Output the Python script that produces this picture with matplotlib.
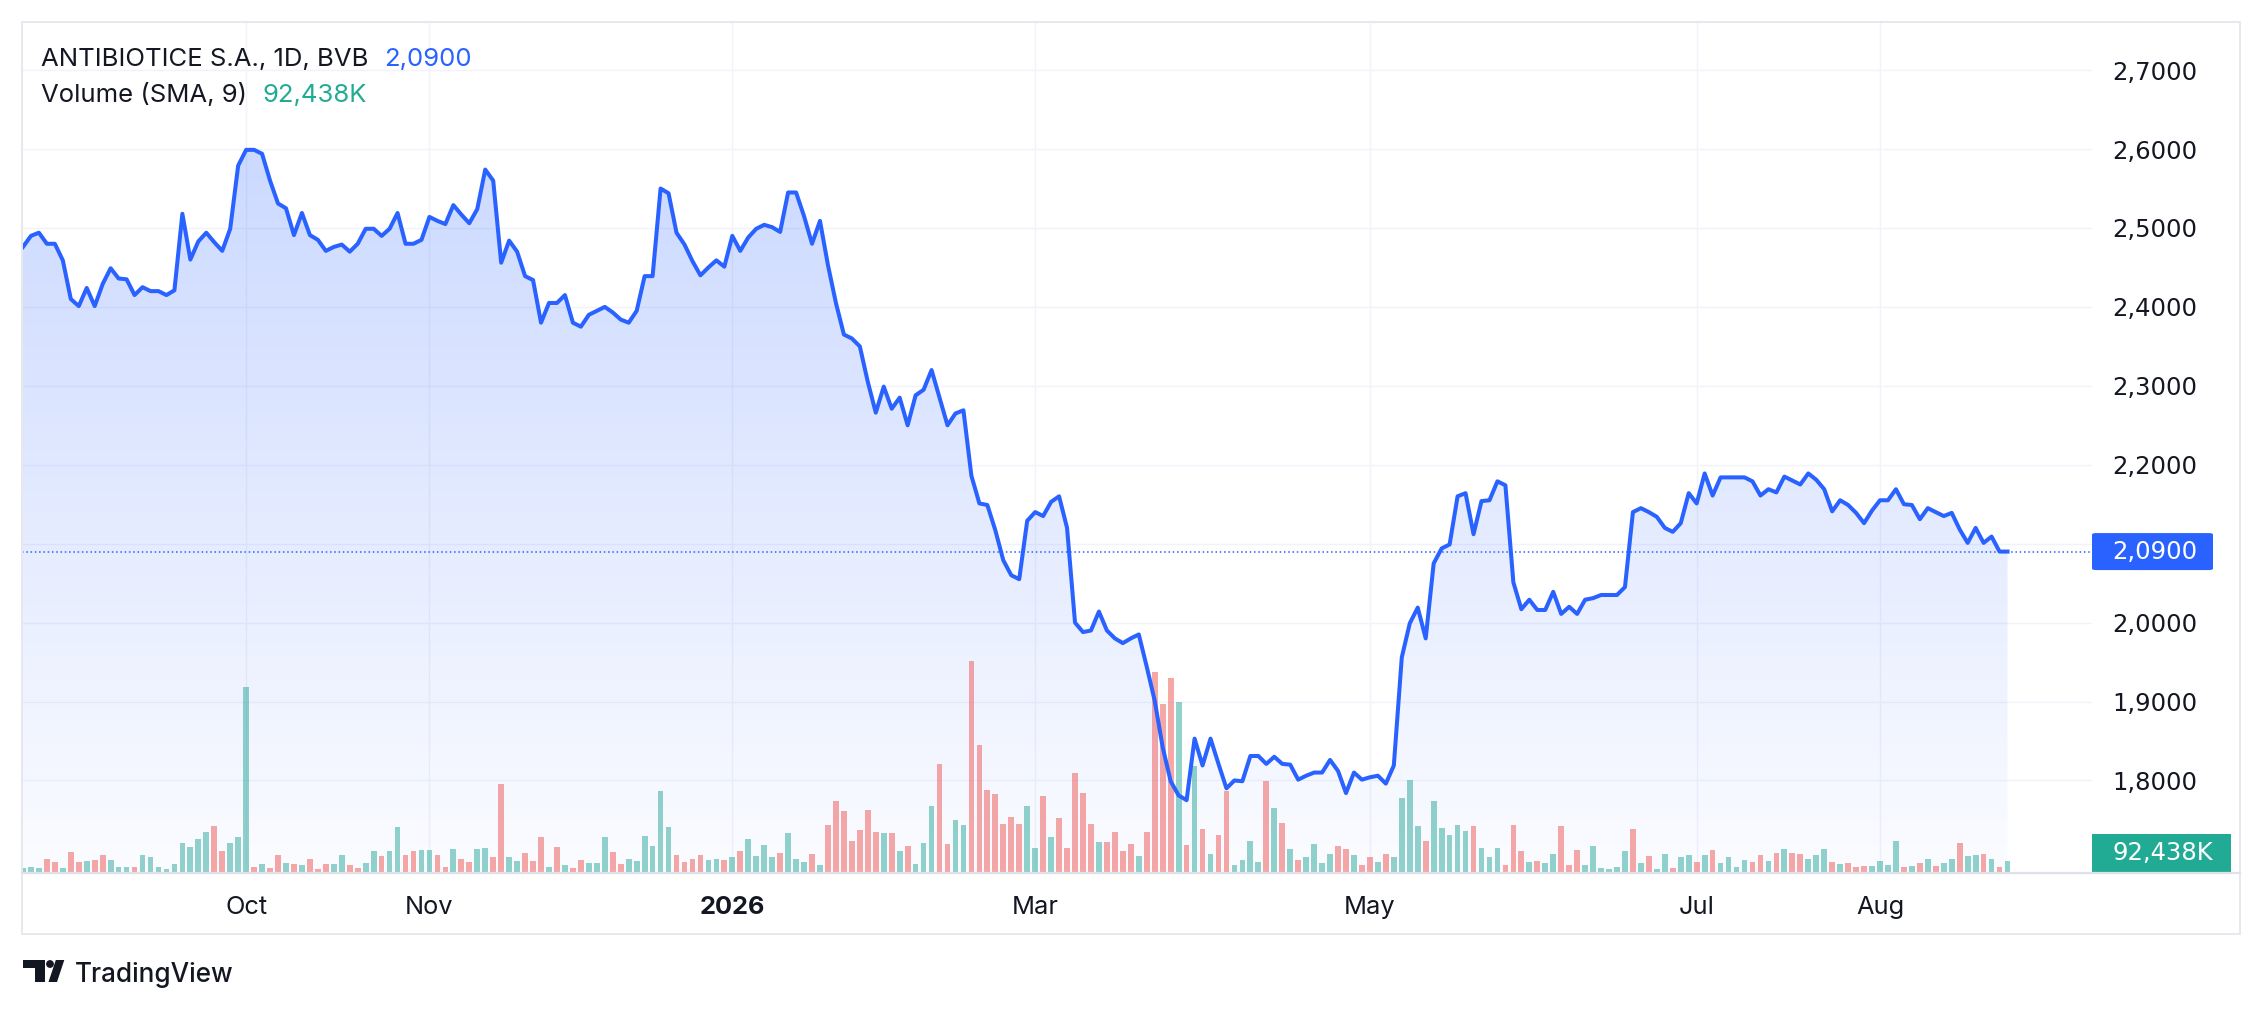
import matplotlib
matplotlib.use("Agg")
import matplotlib.pyplot as plt
import matplotlib.patches as patches
import matplotlib.transforms as mtransforms
from matplotlib.lines import Line2D
from matplotlib.colors import to_rgb
import numpy as np

# daily closes, ANTIBIOTICE S.A. (BVB)
closes = [
    2.476, 2.490, 2.494, 2.480, 2.480, 2.459, 2.410, 2.401, 2.424, 2.401,
    2.429, 2.449, 2.436, 2.435, 2.415, 2.425, 2.420, 2.420, 2.415, 2.421,
    2.518, 2.460, 2.483, 2.494, 2.482, 2.471, 2.499, 2.579, 2.599, 2.599,
    2.594, 2.560, 2.531, 2.525, 2.491, 2.519, 2.491, 2.485, 2.471, 2.476,
    2.479, 2.470, 2.480, 2.499, 2.499, 2.490, 2.499, 2.519, 2.480, 2.480,
    2.485, 2.514, 2.509, 2.505, 2.529, 2.517, 2.506, 2.524, 2.574, 2.560,
    2.456, 2.484, 2.470, 2.439,
    2.434, 2.380, 2.405, 2.405, 2.415, 2.380, 2.375, 2.390, 2.395, 2.400,
    2.393, 2.384, 2.380, 2.395, 2.439, 2.439, 2.550, 2.544, 2.494, 2.479,
    2.458, 2.440, 2.450, 2.459, 2.451, 2.490, 2.471, 2.488, 2.499, 2.504,
    2.501, 2.495, 2.545, 2.545, 2.515, 2.480, 2.509, 2.453, 2.405, 2.365,
    2.360, 2.350, 2.305, 2.266, 2.299, 2.271, 2.285, 2.250, 2.288, 2.295,
    2.320, 2.285, 2.250, 2.265, 2.269, 2.186, 2.151, 2.149, 2.117, 2.079,
    2.060, 2.055,
    2.129, 2.140, 2.135, 2.153, 2.160, 2.120, 2.000, 1.988, 1.990, 2.014,
    1.990, 1.980, 1.974, 1.980, 1.985, 1.944, 1.901, 1.842, 1.799, 1.781,
    1.775, 1.853, 1.819, 1.853, 1.821, 1.790, 1.800, 1.799, 1.831, 1.831,
    1.821, 1.830, 1.821, 1.820, 1.801, 1.806, 1.810, 1.810, 1.826, 1.812,
    1.784, 1.810, 1.801, 1.804, 1.806, 1.796, 1.819, 1.956, 1.999, 2.019,
    1.980, 2.075, 2.094, 2.099, 2.160, 2.164, 2.112, 2.154, 2.155, 2.179,
    2.174, 2.051, 2.017,
    2.029, 2.016, 2.016, 2.039, 2.011, 2.020, 2.011, 2.029, 2.031, 2.035,
    2.035, 2.035, 2.045, 2.140, 2.145, 2.140, 2.134, 2.120, 2.115, 2.126,
    2.164, 2.151, 2.189, 2.161, 2.184, 2.184, 2.184, 2.184, 2.179, 2.161,
    2.169, 2.165, 2.185, 2.180, 2.175, 2.189, 2.181, 2.169, 2.141, 2.155,
    2.149, 2.139, 2.126, 2.142, 2.155, 2.155, 2.169, 2.150, 2.149, 2.131,
    2.145, 2.140, 2.135, 2.139, 2.118, 2.101, 2.120, 2.101, 2.109, 2.090,
    2.090,
]

# volume in thousands of shares
volumes_k = [
    24, 30, 24, 78, 60, 24, 126, 60, 66, 72,
    108, 72, 30, 30, 30, 108, 90, 30, 18, 48,
    180, 156, 204, 246, 288, 132, 180, 216, 1146, 30,
    48, 24, 108, 54, 48, 42, 78, 18, 48, 48,
    108, 42, 24, 54, 132, 102, 132, 276, 108, 132,
    138, 138, 108, 30, 144, 78, 60, 144, 150, 96,
    546, 96, 66, 120,
    69, 219, 33, 156, 45, 27, 75, 57, 57, 219,
    126, 51, 81, 69, 225, 162, 504, 279, 108, 63,
    81, 108, 75, 81, 75, 90, 132, 207, 102, 168,
    96, 120, 243, 81, 63, 114, 45, 294, 441, 378,
    195, 261, 387, 249, 243, 243, 132, 162, 51, 180,
    411, 669, 174, 324, 294, 1308, 789, 510, 486, 300,
    342, 300,
    411, 150, 471, 219, 336, 150, 615, 492, 300, 189,
    189, 249, 132, 174, 102, 249, 1239, 1041, 1203, 1053,
    168, 660, 267, 114, 231, 504, 45, 75, 195, 63,
    564, 399, 306, 144, 75, 96, 174, 57, 114, 162,
    144, 108, 45, 96, 63, 114, 90, 459, 570, 288,
    195, 441, 273, 231, 294, 255, 288, 150, 96, 150,
    45, 294, 132,
    63, 69, 57, 114, 288, 45, 138, 45, 162, 27,
    21, 33, 132, 267, 57, 102, 21, 114, 27, 96,
    108, 63, 108, 138, 57, 90, 33, 75, 63, 108,
    69, 120, 144, 120, 114, 81, 108, 144, 63, 51,
    57, 33, 39, 39, 69, 45, 195, 33, 39, 57,
    81, 39, 57, 81, 180, 102, 108, 114, 81, 33,
    69,
]

# g = up bar, r = down bar
volume_dir = (
    "gggrrgrrgr" "rgggrggggg" "ggggrrgggr" "grrgrgrrrg" "grrggrggrr" "ggrrgrrggr" "rggr"
    "rrgrgrrggg" "rrggggggrr" "rrggrgrggg" "grgggrgrrr" "rrrrgrgrgg" "grrggrrrrr" "rr"
    "ggrgrrrrrg" "rrrrgrrrrg" "rgrgrrgggg" "rgrgrggggr" "rgrrgrgggg" "rgggggrggg" "rrr"
    "grggrrrggg" "gggrgrggrg" "grgrggggrr" "grgrrgggrg" "rrrggggrgr" "grggrggrgr" "g"
)

month_idx = [28, 51, 89, 127, 169, 210, 233]
month_labels = ['Oct', 'Nov', '2026', 'Mar', 'May', 'Jul', 'Aug']
price_ticks = [1.8, 1.9, 2.0, 2.1, 2.2, 2.3, 2.4, 2.5, 2.6, 2.7]

last_price = 2.09
vol_sma_label = '92,438K'

W, H = 2263, 1011
BLUE = '#2962FF'
TEAL = '#22ab94'
TEXT = '#131722'
GRID = '#f0f3fa'
BORDER = '#e6e8ee'

PANE_L, PANE_R, PANE_T, PANE_B = 21.7, 2092, 22, 872
YMIN, YMAX = 1.684, 2.761
XMIN, XMAX = -0.16, 259.6
VOL_TOP = 5270


def fmt_price(p):
    return f'{p:.4f}'.replace('.', ',')


fig = plt.figure(figsize=(W / 100, H / 100), dpi=100)
fig.patch.set_facecolor('white')
px = mtransforms.Affine2D().scale(1, -1).translate(0, H)  # top-left pixel coords

ax = fig.add_axes([PANE_L / W, 1 - PANE_B / H, (PANE_R - PANE_L) / W, (PANE_B - PANE_T) / H])
ax.set_facecolor('white')
for s in ax.spines.values():
    s.set_visible(False)

x = np.arange(len(closes))

# area with vertical gradient
fill = ax.fill_between(x, closes, YMIN, facecolor='none', edgecolor='none')
grad = np.zeros((256, 1, 4))
grad[..., :3] = to_rgb(BLUE)
grad[:, 0, 3] = np.linspace(0.28, 0.02, 256)
im = ax.imshow(grad, extent=[XMIN, XMAX, YMIN, YMAX], aspect='auto', origin='upper', zorder=1)
im.set_clip_path(fill.get_paths()[0], transform=ax.transData)

# volume bars on their own scale at the bottom of the pane
vol_tr = mtransforms.blended_transform_factory(
    ax.transData, mtransforms.Affine2D().scale(1, 1 / VOL_TOP) + ax.transAxes)
bar_colors = ['#26a69a' if d == 'g' else '#ef5350' for d in volume_dir]
ax.bar(x, volumes_k, width=0.72, bottom=0, color=bar_colors, alpha=0.5,
       transform=vol_tr, zorder=2, linewidth=0)

ax.axhline(last_price, color=BLUE, lw=1.1, linestyle=(0, (1, 1.8)), zorder=3)
ax.plot(x, closes, color=BLUE, lw=2.9, zorder=4, solid_joinstyle='round')

ax.set_xlim(XMIN, XMAX)
ax.set_ylim(YMIN, YMAX)

# the 2,1000 label sits under the last-price box, so it stays blank
ax.set_yticks(price_ticks)
ax.set_yticklabels(['' if abs(p - 2.1) < 1e-9 else fmt_price(p) for p in price_ticks])
ax.yaxis.tick_right()
ax.tick_params(axis='y', length=0, pad=14.4, labelsize=17.5, labelcolor=TEXT)
for lbl in ax.get_yticklabels():
    lbl.set_family('DejaVu Sans')

ax.set_xticks(month_idx)
ax.set_xticklabels(month_labels)
ax.tick_params(axis='x', length=0, pad=17, labelsize=18.3, labelcolor=TEXT)
for lbl in ax.get_xticklabels():
    lbl.set_family('Inter')
    if lbl.get_text() == '2026':
        lbl.set_fontweight('bold')

ax.grid(True, color=GRID, lw=1.0)
ax.set_axisbelow(True)

# frame around chart and time axis separator
fig.add_artist(patches.Rectangle((PANE_L, PANE_T), 2240 - PANE_L, 934 - PANE_T, transform=px,
                                 fill=False, edgecolor=BORDER, lw=1.4))
fig.add_artist(Line2D([PANE_L, 2240], [873, 873], transform=px, color='#dfe2e8', lw=1.6))

# price label boxes
box_tr = mtransforms.blended_transform_factory(ax.transAxes, ax.transData)
bh = 37 / ((PANE_B - PANE_T) / (YMAX - YMIN))
bw = (2213 - PANE_R) / (PANE_R - PANE_L)
ax.add_patch(patches.FancyBboxPatch((1.0, last_price - bh / 2), bw, bh,
                                    boxstyle='round,pad=0,rounding_size=0.002',
                                    transform=box_tr, facecolor=BLUE, edgecolor='none',
                                    clip_on=False, zorder=5))
ax.text(1.0 + 20 / (PANE_R - PANE_L), last_price, fmt_price(last_price),
        transform=box_tr, color='white', fontsize=17.5, family='DejaVu Sans',
        va='center', ha='left', zorder=6, clip_on=False)

fig.add_artist(patches.Rectangle((PANE_R, 834), 2231 - PANE_R, 38, transform=px,
                                 facecolor=TEAL, edgecolor='none'))
fig.text(2112, 853, vol_sma_label, transform=px, color='white', fontsize=17.5,
         family='DejaVu Sans', va='center', ha='left')

# legend
renderer = fig.canvas.get_renderer()
t1 = fig.text(41, 65.7, 'ANTIBIOTICE S.A., 1D, BVB', transform=px, color=TEXT,
              fontsize=18.5, family='Inter', va='baseline')
bb = t1.get_window_extent(renderer)
fig.text(bb.x1 + 16, 65.7, fmt_price(last_price), transform=px, color=BLUE,
         fontsize=18.5, family='Inter', va='baseline')
t2 = fig.text(41, 101.7, 'Volume (SMA, 9)', transform=px, color=TEXT,
              fontsize=18.5, family='Inter', va='baseline')
bb = t2.get_window_extent(renderer)
fig.text(bb.x1 + 16, 101.7, vol_sma_label, transform=px, color=TEAL,
         fontsize=18.5, family='Inter', va='baseline')

# TradingView mark
fig.add_artist(patches.Rectangle((22.7, 960), 22.3, 7.5, transform=px, facecolor=TEXT, edgecolor='none'))
fig.add_artist(patches.Rectangle((35, 960), 10, 22, transform=px, facecolor=TEXT, edgecolor='none'))
fig.add_artist(patches.Circle((50, 964), 3.9, transform=px, facecolor=TEXT, edgecolor='none'))
fig.add_artist(patches.Polygon([(48.5, 982), (57, 982), (64.3, 960), (55.8, 960)], closed=True,
                               transform=px, facecolor=TEXT, edgecolor='none'))
fig.text(75, 982, 'TradingView', transform=px, color=TEXT, fontsize=18.8,
         family='Inter', fontweight='medium', va='baseline')

fig.savefig('out.png', dpi=100, facecolor='white')
